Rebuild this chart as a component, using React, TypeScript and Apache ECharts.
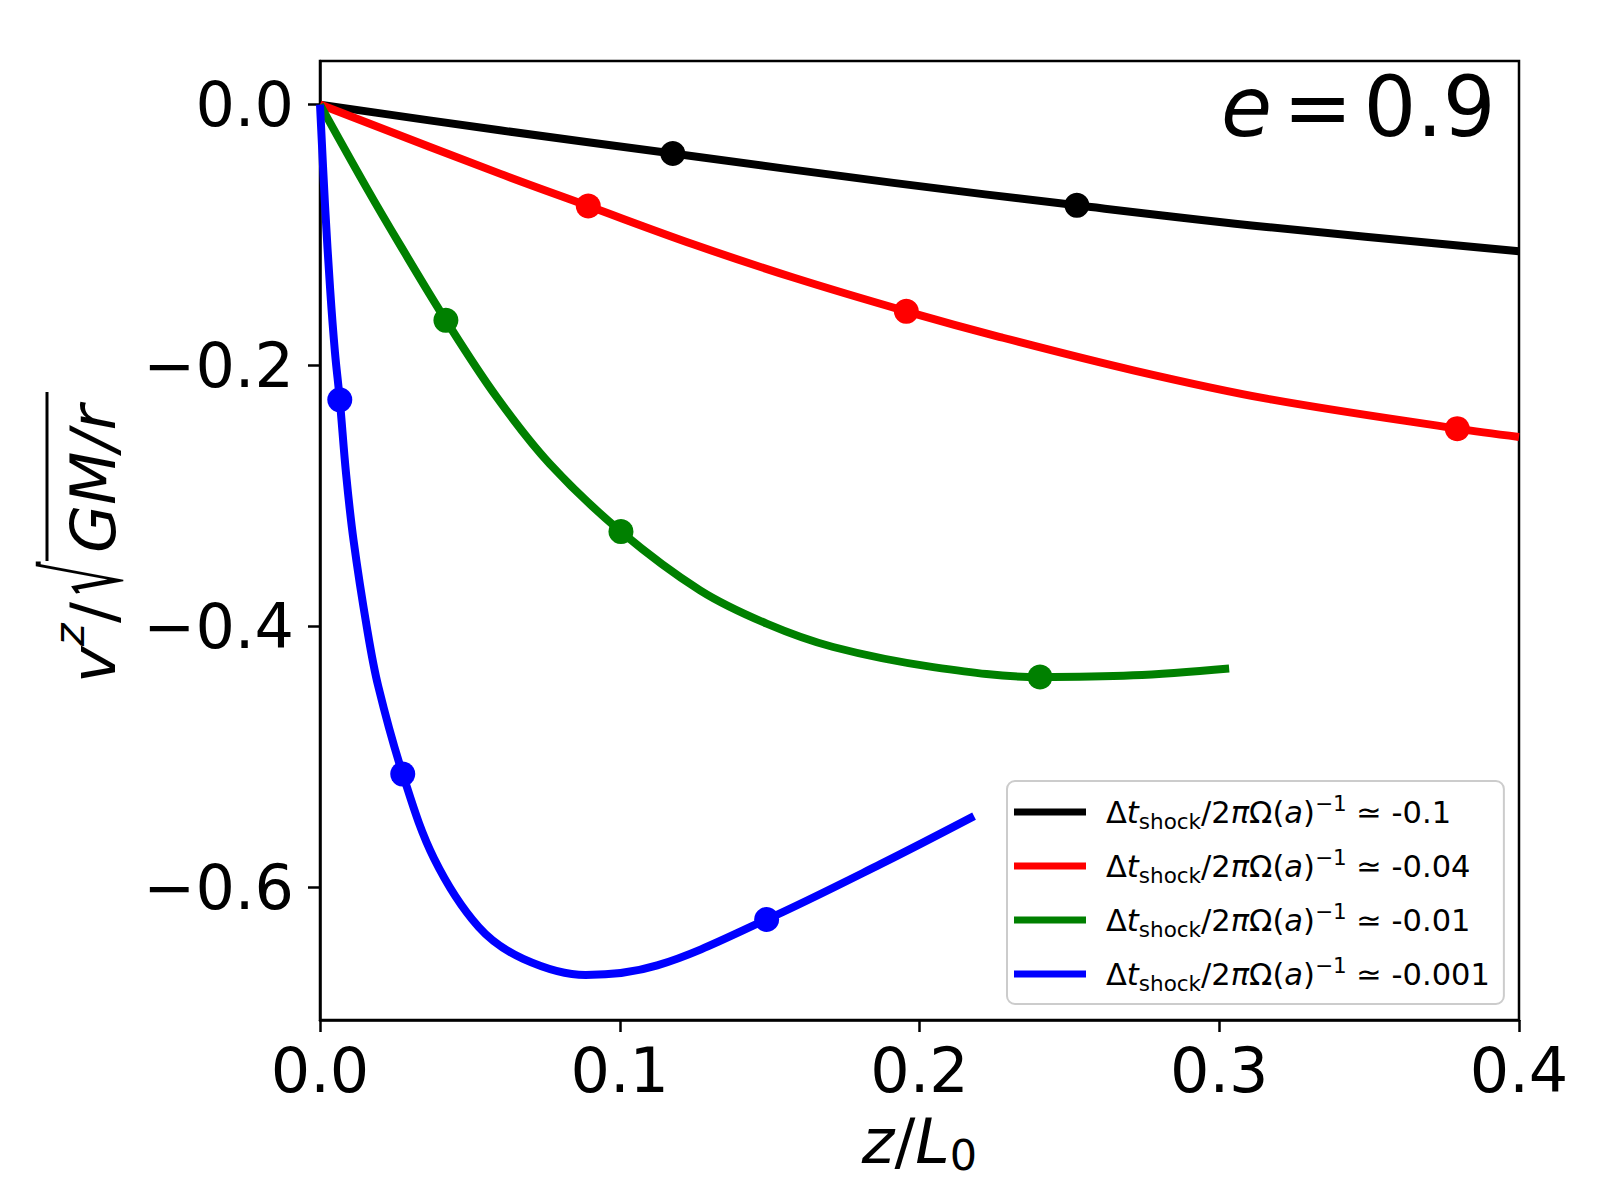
import React, { useEffect, useRef } from "react";
import * as echarts from "echarts";

const FONT = '"DejaVu Sans"';

// axis ticks
const xTicks = [0, 0.1, 0.2, 0.3, 0.4];
const yTicks = [-0.6, -0.4, -0.2, 0.0];
const xRange = [0, 0.4];
const yRange = [-0.7014, 0.0334];

// legend values  (Δt_shock / 2πΩ(a)^-1)
const legendValues = ["-0.1", "-0.04", "-0.01", "-0.001"];
const colors = ["#000000", "#ff0000", "#008000", "#0000ff"];

// curves [z/L0, v^z/sqrt(GM/r)]
const blackCurve = [
  [0, 0], [0.06, -0.0197], [0.1177, -0.0375], [0.1913, -0.06],
  [0.2525, -0.0772], [0.3158, -0.0938], [0.4, -0.1124],
];
const redCurve = [
  [0, 0], [0.06, -0.0529], [0.0895, -0.0777], [0.1245, -0.107],
  [0.1579, -0.1325], [0.1956, -0.1584], [0.2269, -0.1781], [0.2713, -0.2036],
  [0.3158, -0.2253], [0.3794, -0.2483], [0.4, -0.2547],
];
const greenCurve = [
  [0, 0], [0.0156, -0.064], [0.0267, -0.1075], [0.042, -0.1653], [0.0589, -0.224],
  [0.0767, -0.2754], [0.1004, -0.3272], [0.1268, -0.3722], [0.149, -0.3977],
  [0.1712, -0.4156], [0.2046, -0.431], [0.2402, -0.4386], [0.2713, -0.4373], [0.3033, -0.432],
];
const blueCurve = [
  [0, 0], [0.0017, -0.078], [0.0034, -0.142], [0.005, -0.19], [0.0066, -0.2262],
  [0.0087, -0.283], [0.0112, -0.334], [0.0157, -0.4015], [0.0194, -0.4454],
  [0.0276, -0.513], [0.038, -0.5774], [0.0529, -0.63], [0.0678, -0.6545],
  [0.0886, -0.6669], [0.1125, -0.6596], [0.149, -0.6244], [0.187, -0.582], [0.2182, -0.5452],
];

// dots on curves
const blackDots = [[0.1177, -0.0375], [0.2525, -0.0772]];
const redDots = [[0.0895, -0.0777], [0.1956, -0.1584], [0.3794, -0.2483]];
const greenDots = [[0.042, -0.1653], [0.1004, -0.3272], [0.2402, -0.4386]];
const blueDots = [[0.0066, -0.2262], [0.0276, -0.513], [0.149, -0.6244]];

const curves = [blackCurve, redCurve, greenCurve, blueCurve];
const dots = [blackDots, redDots, greenDots, blueDots];

export default function App() {
  const ref = useRef<HTMLDivElement>(null);
  useEffect(() => {
    if (!ref.current) return;
    const chart = echarts.init(ref.current, null, { renderer: "svg" });

    const lineSeries = curves.map((data, i) => ({
      name: legendValues[i],
      type: "line",
      data,
      showSymbol: false,
      symbol: "none",
      smooth: 0.35,
      lineStyle: { color: colors[i], width: 8, cap: "butt", join: "round" },
      itemStyle: { color: colors[i] },
      z: 2,
    }));
    const dotSeries = dots.map((data, i) => ({
      name: "dots" + i,
      type: "scatter",
      data,
      symbol: "circle",
      symbolSize: 25,
      itemStyle: { color: colors[i], opacity: 1 },
      z: 3,
    }));

    const base = { fontFamily: FONT, fontSize: 30.5, color: "#000", lineHeight: 40 };
    const legendRich = {
      d: { ...base, padding: [0, 0, 0, 15] },
      n: { ...base },
      i: { ...base, fontStyle: "italic" },
      sub: { fontFamily: FONT, fontSize: 21.5, color: "#000", lineHeight: 22, verticalAlign: "bottom" },
      sup: { fontFamily: FONT, fontSize: 21.5, color: "#000", lineHeight: 22, verticalAlign: "top" },
    };

    const option = {
      animation: false,
      backgroundColor: "#ffffff",
      textStyle: { fontFamily: FONT },
      grid: {
        left: 320, right: 81, top: 61, bottom: 180,
        show: true, borderColor: "#000", borderWidth: 2.5, backgroundColor: "transparent",
      },
      legend: {
        data: legendValues,
        orient: "vertical",
        left: 1007,
        top: 781,
        padding: [11, 14, 10, 7],
        itemWidth: 72,
        itemHeight: 7,
        itemGap: 14,
        icon: "rect",
        backgroundColor: "rgba(255,255,255,0.8)",
        borderColor: "#cccccc",
        borderWidth: 2,
        borderRadius: 8,
        formatter: (name: string) =>
          `{d|Δ}{i|t}{sub|shock}{n|/2}{i|π}{n|Ω(}{i|a}{n|)}{sup|−1}{n| ≃ ${name}}`,
        textStyle: { color: "#000", fontFamily: FONT, fontSize: 30.5, rich: legendRich },
        selectedMode: false,
      },
      xAxis: {
        type: "value",
        min: xRange[0],
        max: xRange[1],
        interval: 0.1,
        name: "{i|z}{n|/}{i|L}{sub|0}",
        nameLocation: "middle",
        nameGap: 86,
        nameTextStyle: {
          rich: {
            i: { fontFamily: FONT, fontSize: 62, fontStyle: "italic", color: "#000", lineHeight: 70 },
            n: { fontFamily: FONT, fontSize: 62, color: "#000", lineHeight: 70 },
            sub: { fontFamily: FONT, fontSize: 43, color: "#000", lineHeight: 37, verticalAlign: "bottom" },
          },
        },
        axisLine: { show: true, onZero: false, lineStyle: { color: "#000", width: 2.5 } },
        axisTick: { show: true, inside: false, length: 12, lineStyle: { color: "#000", width: 2.5 }, customValues: xTicks },
        axisLabel: {
          show: true, customValues: xTicks,
          fontFamily: FONT, fontSize: 62, lineHeight: 62, color: "#000", margin: 19,
          formatter: (v: number) => v.toFixed(1),
        },
        splitLine: { show: false },
      },
      yAxis: {
        type: "value",
        min: yRange[0],
        max: yRange[1],
        axisLine: { show: true, onZero: false, lineStyle: { color: "#000", width: 2.5 } },
        axisTick: { show: true, inside: false, length: 12, lineStyle: { color: "#000", width: 2.5 }, customValues: yTicks },
        axisLabel: {
          show: true, customValues: yTicks,
          fontFamily: FONT, fontSize: 62, lineHeight: 62, color: "#000", margin: 26,
          formatter: (v: number) => (Math.abs(v) < 1e-9 ? "0.0" : (v < 0 ? "−" : "") + Math.abs(v).toFixed(1)),
        },
        splitLine: { show: false },
      },
      series: [...lineSeries, ...dotSeries],
      graphic: [
        {
          type: "group",
          x: 115,
          y: 683,
          rotation: Math.PI / 2,
          children: [
            { type: "text", x: 0, y: -21.5, style: { text: "v", font: `italic 62px ${FONT}`, fill: "#000", align: "left", verticalAlign: "middle" } },
            { type: "text", x: 37, y: -46, style: { text: "z", font: `italic 43px ${FONT}`, fill: "#000", align: "left", verticalAlign: "middle" } },
            { type: "text", x: 60, y: -21.5, style: { text: "/", font: `62px ${FONT}`, fill: "#000", align: "left", verticalAlign: "middle" } },
            { type: "text", x: 88, y: -30, scaleX: 0.85, scaleY: 1.7, style: { text: "√", font: `62px ${FONT}`, fill: "#000", align: "left", verticalAlign: "middle" } },
            { type: "text", x: 130, y: -21.5, style: { text: "GM/r", font: `italic 62px ${FONT}`, fill: "#000", align: "left", verticalAlign: "middle" } },
            { type: "line", shape: { x1: 122, y1: -68, x2: 291, y2: -68 }, style: { stroke: "#000", lineWidth: 3 } },
          ],
        },
        {
          type: "text",
          x: 1221,
          y: 107.5,
          z: 10,
          style: {
            text: "{i|e}{s|=}{n|0.9}",
            align: "left",
            verticalAlign: "middle",
            rich: {
              i: { fontFamily: FONT, fontSize: 83, fontStyle: "italic", fill: "#000", lineHeight: 83 },
              s: { fontFamily: FONT, fontSize: 83, fill: "#000", lineHeight: 83, padding: [0, 11, 0, 11] },
              n: { fontFamily: FONT, fontSize: 83, fill: "#000", lineHeight: 83 },
            },
          },
        },
      ],
    };
    chart.setOption(option as any);
    return () => chart.dispose();
  }, []);
  return (
    <div
      ref={ref}
      style={{ position: "absolute", left: 0, top: 0, width: 1600, height: 1200, background: "#fff" }}
    />
  );
}
